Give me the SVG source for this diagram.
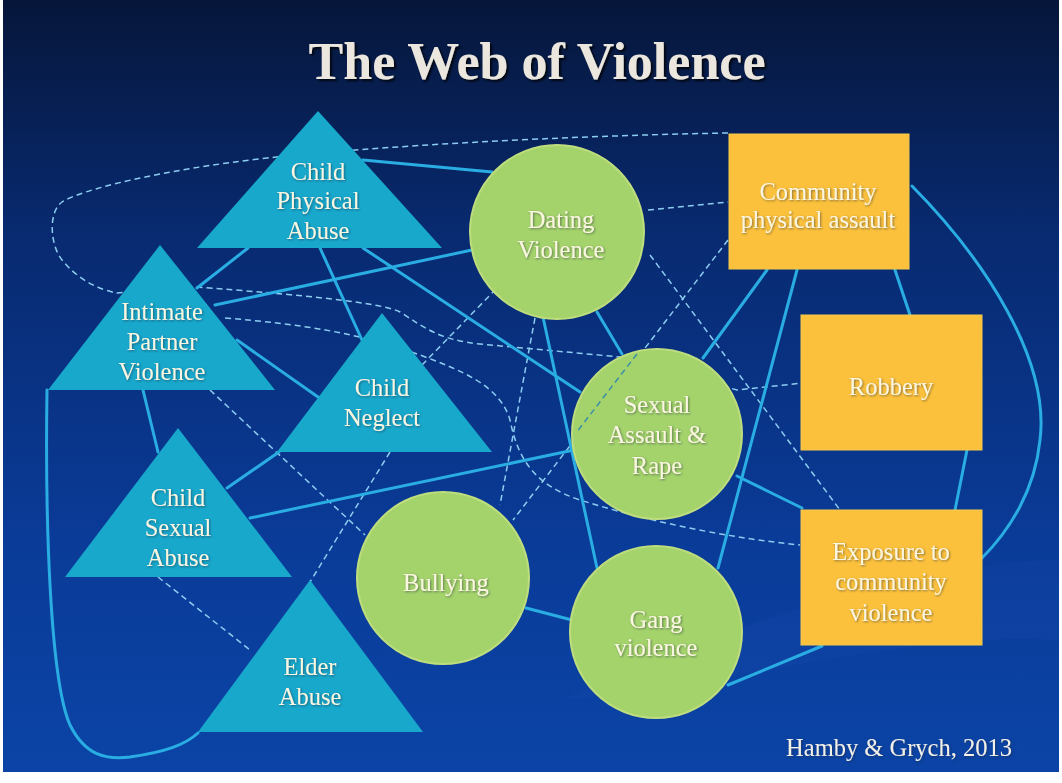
<svg xmlns="http://www.w3.org/2000/svg" width="1062" height="783" viewBox="0 0 1062 783">
<defs>
<linearGradient id="bg" x1="0" y1="0" x2="0" y2="1">
<stop offset="0" stop-color="#06163a"/>
<stop offset="0.3" stop-color="#082a70"/>
<stop offset="0.7" stop-color="#0a3b98"/>
<stop offset="1" stop-color="#0b44a6"/>
</linearGradient>
<filter id="ts" x="-10%" y="-10%" width="120%" height="130%">
<feDropShadow dx="1" dy="1" stdDeviation="0.8" flood-color="#1a2a3a" flood-opacity="0.55"/>
</filter>
<filter id="tts" x="-10%" y="-20%" width="120%" height="150%">
<feDropShadow dx="2" dy="2" stdDeviation="1.2" flood-color="#000000" flood-opacity="0.8"/>
</filter>
</defs>
<style>
.tri{fill:#18a8cc}
.cir{fill:#a4d36c;stroke:#bedd7e;stroke-width:2}
.box{fill:#fcc13c;stroke:#f5c94a;stroke-width:1}
.solid{fill:none;stroke:#29ade3;stroke-width:3;stroke-linecap:round}
.dash{fill:none;stroke:#8ccdf0;stroke-width:1.5;stroke-dasharray:6 4}
.dashin{fill:none;stroke:#3b8fa8;stroke-width:1.5;stroke-dasharray:6 4}
.lbl{font-family:"Liberation Serif","Times New Roman",serif;font-size:24.5px;fill:#fbf6e2;text-anchor:middle;filter:url(#ts)}
</style>
<rect x="0" y="0" width="1062" height="783" fill="#ffffff"/>
<rect x="3" y="0" width="1056" height="772" fill="url(#bg)"/>
<path d="M560,700 C 700,640 900,560 1059,560 L1059,640 C 900,630 720,690 560,700 Z" fill="#3a6ad0" opacity="0.07"/>
<text x="537" y="79" font-family="Liberation Serif,'Times New Roman',serif" font-size="52" font-weight="bold" fill="#ebe7df" text-anchor="middle" filter="url(#tts)">The Web of Violence</text>

<g id="connectors">
<path class="dash" d="M728,133 C 560,136 380,146 267,158 C 160,170 80,190 62,202 C 48,212 50,245 62,260 C 78,280 100,290 117,293 L197,287 C 300,295 380,302 400,312 C 425,328 440,340 480,344 L620,357 L737,390 L803,383"/>
<path class="dash" d="M225,318 C 300,324 360,333 420,355 C 460,370 500,385 510,420 C 518,460 535,485 580,500 C 650,522 730,538 800,545"/>
<line class="dash" x1="648" y1="210" x2="728" y2="202"/>
<line class="dash" x1="650" y1="255" x2="840" y2="510"/>
<line class="dash" x1="728" y1="240" x2="513" y2="520"/>
<line class="dash" x1="422" y1="365" x2="495" y2="290"/>
<line class="dash" x1="535" y1="318" x2="500" y2="505"/>
<line class="dash" x1="210" y1="390" x2="365" y2="535"/>
<line class="dash" x1="390" y1="452" x2="310" y2="582"/>
<line class="dash" x1="158" y1="577" x2="250" y2="650"/>

<line class="solid" x1="363" y1="160" x2="492" y2="172"/>
<line class="solid" x1="248" y1="248" x2="197" y2="288"/>
<line class="solid" x1="215" y1="305" x2="472" y2="250"/>
<line class="solid" x1="320" y1="248" x2="362" y2="340"/>
<line class="solid" x1="363" y1="248" x2="580" y2="392"/>
<line class="solid" x1="237" y1="340" x2="318" y2="397"/>
<line class="solid" x1="143" y1="390" x2="158" y2="452"/>
<path class="solid" d="M47,390 C 45,520 50,680 70,725 C 85,755 105,760 130,757 C 165,752 185,745 198,733"/>
<line class="solid" x1="227" y1="488" x2="279" y2="452"/>
<line class="solid" x1="250" y1="518" x2="574" y2="450"/>
<line class="solid" x1="543" y1="317" x2="597" y2="568"/>
<line class="solid" x1="597" y1="312" x2="622" y2="354"/>
<line class="solid" x1="767" y1="270" x2="703" y2="358"/>
<line class="solid" x1="797" y1="270" x2="718" y2="568"/>
<line class="solid" x1="895" y1="270" x2="910" y2="315"/>
<path class="solid" d="M912,186 C 985,260 1050,360 1040,440 C 1035,490 1010,530 982,558"/>
<line class="solid" x1="967" y1="450" x2="955" y2="510"/>
<line class="solid" x1="737" y1="476" x2="802" y2="508"/>
<line class="solid" x1="526" y1="608" x2="572" y2="620"/>
<line class="solid" x1="728" y1="685" x2="822" y2="646"/>
</g>

<g id="node-child-physical-abuse">
<polygon class="tri" points="318,111 197,248 442,248"/>
<text class="lbl"><tspan x="318" y="180">Child</tspan><tspan x="318" y="209">Physical</tspan><tspan x="318" y="239">Abuse</tspan></text>
</g>
<g id="node-intimate-partner-violence">
<polygon class="tri" points="160,245 48,390 275,390"/>
<text class="lbl"><tspan x="162" y="320">Intimate</tspan><tspan x="162" y="350">Partner</tspan><tspan x="162" y="380">Violence</tspan></text>
</g>
<g id="node-child-neglect">
<polygon class="tri" points="382,313 277,452 492,452"/>
<text class="lbl"><tspan x="382" y="396">Child</tspan><tspan x="382" y="426">Neglect</tspan></text>
</g>
<g id="node-child-sexual-abuse">
<polygon class="tri" points="178,428 65,577 292,577"/>
<text class="lbl"><tspan x="178" y="506">Child</tspan><tspan x="178" y="536">Sexual</tspan><tspan x="178" y="566">Abuse</tspan></text>
</g>
<g id="node-elder-abuse">
<polygon class="tri" points="310,580 198,732 423,732"/>
<text class="lbl"><tspan x="310" y="675">Elder</tspan><tspan x="310" y="705">Abuse</tspan></text>
</g>
<g id="node-dating-violence">
<circle class="cir" cx="557" cy="232" r="87"/>
<text class="lbl"><tspan x="561" y="228">Dating</tspan><tspan x="561" y="258">Violence</tspan></text>
</g>
<g id="node-sexual-assault-rape">
<circle class="cir" cx="657" cy="434" r="85"/>
<text class="lbl"><tspan x="657" y="413">Sexual</tspan><tspan x="657" y="443">Assault &amp;</tspan><tspan x="657" y="474">Rape</tspan></text>
</g>
<g id="node-bullying">
<circle class="cir" cx="443" cy="578" r="86"/>
<text class="lbl" x="446" y="591">Bullying</text>
</g>
<g id="node-gang-violence">
<circle class="cir" cx="656" cy="632" r="86"/>
<text class="lbl"><tspan x="656" y="628">Gang</tspan><tspan x="656" y="656">violence</tspan></text>
</g>
<g id="node-community-physical-assault">
<rect class="box" x="729" y="134" width="180" height="135"/>
<text class="lbl"><tspan x="818" y="200">Community</tspan><tspan x="818" y="228">physical assault</tspan></text>
</g>
<g id="node-robbery">
<rect class="box" x="801" y="315" width="181" height="135"/>
<text class="lbl" x="891" y="395">Robbery</text>
</g>
<g id="node-exposure-community-violence">
<rect class="box" x="801" y="510" width="181" height="135"/>
<text class="lbl"><tspan x="891" y="560">Exposure to</tspan><tspan x="891" y="590">community</tspan><tspan x="891" y="621">violence</tspan></text>
</g>

<g id="connectors-overlay">
<line class="dashin" x1="637" y1="354" x2="576" y2="433"/>
</g>

<text x="1012" y="756" font-family="Liberation Serif,'Times New Roman',serif" font-size="24.5" fill="#f3f0e8" text-anchor="end" filter="url(#ts)">Hamby &amp; Grych, 2013</text>
</svg>
